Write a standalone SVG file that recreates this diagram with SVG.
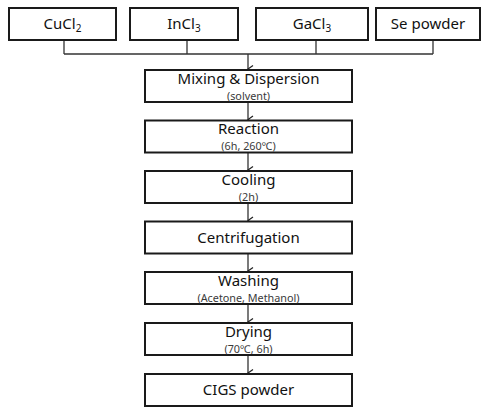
<svg xmlns="http://www.w3.org/2000/svg" width="482" height="408" viewBox="0 0 482 408">
<style>
.box{fill:#fff;stroke:#1a1a1a;stroke-width:2}
.t{font-family:"Noto Sans","Open Sans",sans-serif;font-size:15px;fill:#111;text-anchor:middle}
.s{font-family:"Noto Sans","Open Sans",sans-serif;font-size:10.8px;fill:#3a3a3a;text-anchor:middle}
.sub{font-size:10px}
.c{fill:none;stroke:#333;stroke-width:1.3}
</style>
<defs>
<marker id="ah" viewBox="0 0 10 10" refX="5" refY="9" markerWidth="10" markerHeight="10" markerUnits="userSpaceOnUse" orient="auto-start-reverse">
<path d="M1.5,4 L5,9 L8.5,4" fill="none" stroke="#222" stroke-width="1.3"/>
</marker>
</defs>
<rect width="482" height="408" fill="#fff"/>
<g id="connectors">
<path class="c" d="M64,40 V54 M187,40 V54 M316,40 V54 M433,40 V54 M64,54 H433"/>
<path class="c" d="M248,54 V69" marker-end="url(#ah)"/>
<path class="c" d="M248,102 V119.5" marker-end="url(#ah)"/>
<path class="c" d="M248,152.5 V170" marker-end="url(#ah)"/>
<path class="c" d="M248,203 V220.5" marker-end="url(#ah)"/>
<path class="c" d="M248,253.5 V271" marker-end="url(#ah)"/>
<path class="c" d="M248,304 V322" marker-end="url(#ah)"/>
<path class="c" d="M248,355 V373" marker-end="url(#ah)"/>
</g>
<g id="n-cucl2"><rect class="box" x="9" y="8" width="107" height="32"/><text class="t" x="62.5" y="29">CuCl<tspan class="sub" dy="3">2</tspan></text></g>
<g id="n-incl3"><rect class="box" x="130" y="8" width="108" height="32"/><text class="t" x="184" y="29">InCl<tspan class="sub" dy="3">3</tspan></text></g>
<g id="n-gacl3"><rect class="box" x="256" y="8" width="112" height="32"/><text class="t" x="312" y="29">GaCl<tspan class="sub" dy="3">3</tspan></text></g>
<g id="n-se"><rect class="box" x="376" y="8" width="104" height="32"/><text class="t" x="428" y="29">Se powder</text></g>
<g id="n-mixing"><rect class="box" x="145" y="70" width="207" height="32"/><text class="t" x="248.5" y="83.5">Mixing &amp; Dispersion</text><text class="s" x="248.5" y="99.5">(solvent)</text></g>
<g id="n-reaction"><rect class="box" x="145" y="120.5" width="207" height="32"/><text class="t" x="248.5" y="134">Reaction</text><text class="s" x="248.5" y="150">(6h, 260℃)</text></g>
<g id="n-cooling"><rect class="box" x="145" y="171" width="207" height="32"/><text class="t" x="248.5" y="184.5">Cooling</text><text class="s" x="248.5" y="200.5">(2h)</text></g>
<g id="n-centrifugation"><rect class="box" x="145" y="221.5" width="207" height="32"/><text class="t" x="248.5" y="242.5">Centrifugation</text></g>
<g id="n-washing"><rect class="box" x="145" y="272" width="207" height="32"/><text class="t" x="248.5" y="285.5">Washing</text><text class="s" x="248.5" y="301.5">(Acetone, Methanol)</text></g>
<g id="n-drying"><rect class="box" x="145" y="323" width="207" height="32"/><text class="t" x="248.5" y="336.5">Drying</text><text class="s" x="248.5" y="352.5">(70℃, 6h)</text></g>
<g id="n-cigs"><rect class="box" x="145" y="374" width="207" height="32"/><text class="t" x="248.5" y="395">CIGS powder</text></g>
</svg>
